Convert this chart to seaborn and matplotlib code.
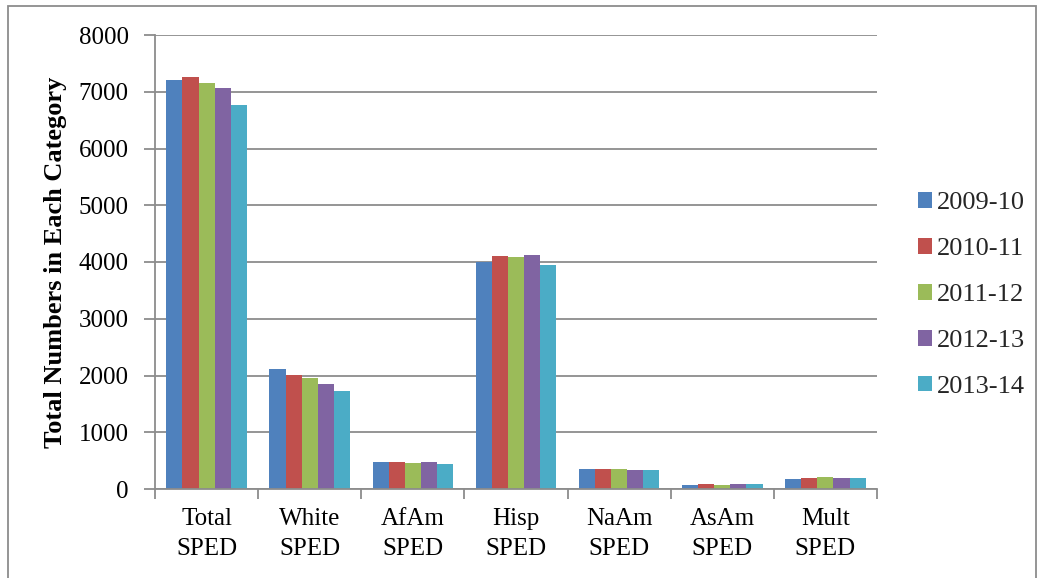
import matplotlib
matplotlib.use("Agg")
import matplotlib.pyplot as plt
from matplotlib.patches import Rectangle
from matplotlib.ticker import FixedLocator
import seaborn as sns
import pandas as pd

categories = ["Total\nSPED", "White\nSPED", "AfAm\nSPED", "Hisp\nSPED",
              "NaAm\nSPED", "AsAm\nSPED", "Mult\nSPED"]
years = ["2009-10", "2010-11", "2011-12", "2012-13", "2013-14"]
y2009 = [7207, 2109, 479, 4005, 355, 68, 170]
y2010 = [7260, 2014, 479, 4111, 360, 82, 195]
y2011 = [7154, 1950, 461, 4093, 349, 72, 212]
y2012 = [7066, 1850, 467, 4116, 338, 82, 195]
y2013 = [6767, 1732, 449, 3947, 331, 82, 195]
colors = ["#4F81BD", "#C0504D", "#9BBB59", "#8064A2", "#4BACC6"]

rows = []
for yr, vals in zip(years, [y2009, y2010, y2011, y2012, y2013]):
    for cat, v in zip(categories, vals):
        rows.append({"Category": cat, "Year": yr, "Count": v})
df = pd.DataFrame(rows)

sns.set_theme(style="white")
plt.rcParams["font.family"] = ["Liberation Serif", "DejaVu Serif"]

fig = plt.figure(figsize=(10.44, 5.78), dpi=100)
ax = fig.add_axes([155 / 1044, 89 / 578, 722 / 1044, 454 / 578])

sns.barplot(data=df, x="Category", y="Count", hue="Year", palette=colors,
            width=0.78, gap=0, saturation=1, ax=ax, edgecolor="none")

grid_c = "#8c8c8c"
ax.set_ylim(0, 8000)
ax.set_xlim(-0.5, len(categories) - 0.5)
ax.set_yticks(range(0, 8001, 1000))
ax.yaxis.grid(True, color=grid_c, linewidth=1.3)
ax.set_axisbelow(True)
for s in ["top", "right"]:
    ax.spines[s].set_visible(False)
for s in ["left", "bottom"]:
    ax.spines[s].set_color(grid_c)
    ax.spines[s].set_linewidth(1.3)

ax.tick_params(axis="y", which="major", direction="out", length=8, width=1.3,
               color=grid_c, labelsize=18, pad=11, left=True)
ax.tick_params(axis="x", which="major", length=0, labelsize=18, pad=14)
ax.xaxis.set_minor_locator(FixedLocator([i - 0.5 for i in range(len(categories) + 1)]))
ax.tick_params(axis="x", which="minor", direction="out", length=7, width=1.3,
               color=grid_c, bottom=True)
for lbl in ax.get_xticklabels() + ax.get_yticklabels():
    lbl.set_color("black")
for lbl in ax.get_xticklabels():
    lbl.set_linespacing(1.42)

ax.set_xlabel("")
ax.set_ylabel("Total Numbers in Each Category", fontsize=19, fontweight="bold",
              color="black", labelpad=8)

handles, labels = ax.get_legend_handles_labels()
ax.legend(handles, labels, loc="center left", bbox_to_anchor=(1.031, 0.427),
          frameon=False, fontsize=19, handlelength=0.53, handleheight=0.53,
          handletextpad=0.2, labelspacing=0.9, borderpad=0.2)

fig.patches.append(Rectangle((8 / 1044, -0.05), 1028 / 1044, 0.05 + 572 / 578,
                             transform=fig.transFigure, fill=False,
                             edgecolor="#8c8c8c", linewidth=1.3))

fig.savefig("out.png", dpi=100)
